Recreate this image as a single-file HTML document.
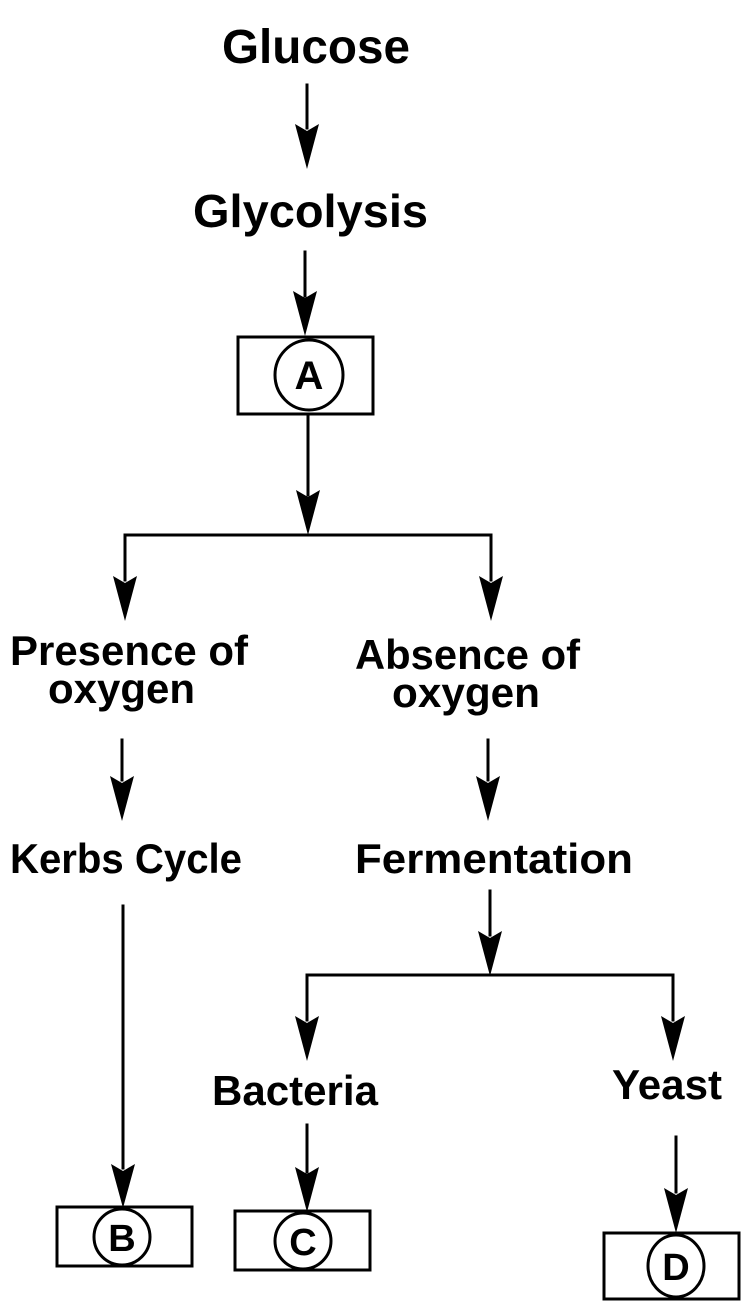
<!DOCTYPE html>
<html><head><style>
html,body{margin:0;padding:0;background:#fff;}
svg{display:block}
text{font-family:"Liberation Sans",sans-serif;font-weight:bold;fill:#000;}
</style></head><body>
<svg width="753" height="1313" viewBox="0 0 753 1313" xmlns="http://www.w3.org/2000/svg">
<g font-size="46">
<text x="222" y="63" textLength="188" lengthAdjust="spacingAndGlyphs" font-size="48">Glucose</text>
<text x="193" y="227" textLength="235" lengthAdjust="spacingAndGlyphs">Glycolysis</text>
</g>
<g font-size="42">
<text x="10" y="665" textLength="238" lengthAdjust="spacingAndGlyphs">Presence of</text>
<text x="48" y="703" textLength="147" lengthAdjust="spacingAndGlyphs">oxygen</text>
<text x="355" y="669" textLength="225" lengthAdjust="spacingAndGlyphs">Absence of</text>
<text x="392" y="707" textLength="148" lengthAdjust="spacingAndGlyphs">oxygen</text>
<text x="10" y="873" textLength="232" lengthAdjust="spacingAndGlyphs">Kerbs Cycle</text>
<text x="355" y="873" textLength="278" lengthAdjust="spacingAndGlyphs">Fermentation</text>
<text x="212" y="1105" textLength="166" lengthAdjust="spacingAndGlyphs">Bacteria</text>
<text x="612" y="1099" textLength="110" lengthAdjust="spacingAndGlyphs">Yeast</text>
</g>
<g stroke="#000" stroke-width="3" fill="none" stroke-linecap="square">
<line x1="307" y1="85" x2="307" y2="128"/>
<line x1="305" y1="252" x2="305" y2="296"/>
<line x1="308" y1="416" x2="308" y2="495"/>
<polyline points="125,580 125,535 491,535 491,580"/>
<line x1="122" y1="740" x2="122" y2="780"/>
<line x1="488" y1="740" x2="488" y2="780"/>
<line x1="123" y1="906" x2="123" y2="1168"/>
<line x1="490" y1="891" x2="490" y2="935"/>
<polyline points="307,1020 307,975 673,975 673,1020"/>
<line x1="307" y1="1125" x2="307" y2="1172"/>
<line x1="676" y1="1137" x2="676" y2="1192"/>
<rect x="238" y="337" width="135" height="77"/>
<rect x="57" y="1207" width="135" height="59"/>
<rect x="235" y="1211" width="135" height="59"/>
<rect x="604" y="1233" width="135" height="66"/>
<ellipse cx="309" cy="375" rx="34" ry="35"/>
<ellipse cx="122" cy="1237" rx="28" ry="28"/>
<ellipse cx="303" cy="1241" rx="28" ry="28"/>
<ellipse cx="676" cy="1266" rx="28" ry="31"/>
</g>
<g fill="#000">
<path d="M295,124 L307,131 L319,124 L307,169 Z"/>
<path d="M293,291 L305,298 L317,291 L305,336 Z"/>
<path d="M296,490 L308,497 L320,490 L308,535 Z"/>
<path d="M113,576 L125,583 L137,576 L125,621 Z"/>
<path d="M479,576 L491,583 L503,576 L491,621 Z"/>
<path d="M110,776 L122,783 L134,776 L122,821 Z"/>
<path d="M476,776 L488,783 L500,776 L488,821 Z"/>
<path d="M111,1164 L123,1171 L135,1164 L123,1208 Z"/>
<path d="M478,931 L490,938 L502,931 L490,976 Z"/>
<path d="M295,1016 L307,1023 L319,1016 L307,1061 Z"/>
<path d="M661,1016 L673,1023 L685,1016 L673,1061 Z"/>
<path d="M295,1167 L307,1174 L319,1167 L307,1212 Z"/>
<path d="M664,1188 L676,1195 L688,1188 L676,1233 Z"/>
</g>
<g text-anchor="middle">
<text x="309" y="389" font-size="40">A</text>
<text x="122" y="1251" font-size="38">B</text>
<text x="303" y="1255" font-size="38">C</text>
<text x="676" y="1280" font-size="38">D</text>
</g>
</svg>
</body></html>
